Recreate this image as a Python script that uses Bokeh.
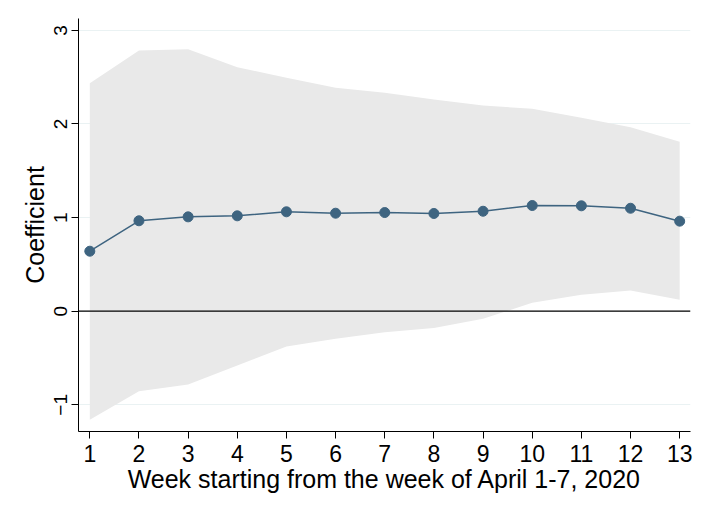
from bokeh.plotting import figure
from bokeh.models import Range1d, FixedTicker, Span, ColumnDataSource
from bokeh.embed import file_html
from bokeh.resources import INLINE

weeks = [1, 2, 3, 4, 5, 6, 7, 8, 9, 10, 11, 12, 13]
coef = [0.641, 0.966, 1.008, 1.019, 1.062, 1.047, 1.054, 1.044, 1.068, 1.129, 1.126, 1.100, 0.962]
upper = [2.436, 2.785, 2.799, 2.607, 2.494, 2.387, 2.335, 2.262, 2.198, 2.162, 2.066, 1.966, 1.810]
lower = [-1.160, -0.855, -0.783, -0.580, -0.377, -0.295, -0.225, -0.178, -0.081, 0.090, 0.175, 0.221, 0.122]
y_ticks = [-1, 0, 1, 2, 3]
x_label = "Week starting from the week of April 1-7, 2020"
y_label = "Coefficient"

FONT = "Liberation Sans"
LINE_COLOR = "#3E6480"

p = figure(width=693, height=500, output_backend="svg", toolbar_location=None,
           x_range=Range1d(0.77, 13.22), y_range=Range1d(-1.285, 3.127),
           min_border_left=78, min_border_right=3, min_border_top=18, min_border_bottom=69)
p.outline_line_color = None
p.background_fill_color = "white"
p.border_fill_color = "white"

src = ColumnDataSource(dict(x=weeks, y=coef, lo=lower, hi=upper))
p.varea(x="x", y1="lo", y2="hi", source=src, fill_color="#E9E9E9", fill_alpha=1.0)
p.add_layout(Span(location=0, dimension="width", line_color="black", line_width=1.2))
p.line(x="x", y="y", source=src, line_color=LINE_COLOR, line_width=1.5)
p.scatter(x="x", y="y", source=src, size=10, fill_color=LINE_COLOR, line_color=LINE_COLOR)

p.xgrid.visible = False
p.ygrid.ticker = FixedTicker(ticks=y_ticks)
p.ygrid.grid_line_color = "#EAF2F3"
p.ygrid.grid_line_width = 1.2

p.xaxis.ticker = FixedTicker(ticks=weeks)
p.yaxis.ticker = FixedTicker(ticks=y_ticks)
for ax in (p.xaxis, p.yaxis):
    ax.axis_line_color = "black"
    ax.major_tick_line_color = "black"
    ax.major_tick_in = 0
    ax.major_tick_out = 7
    ax.minor_tick_line_color = None
    ax.major_label_text_font = FONT
    ax.axis_label_text_font = FONT
    ax.axis_label_text_font_style = "normal"
    ax.major_label_text_color = "black"
    ax.axis_label_text_color = "black"

p.xaxis.axis_label = x_label
p.xaxis.major_label_text_font_size = "23px"
p.xaxis.axis_label_text_font_size = "25px"
p.xaxis.major_label_standoff = 6
p.xaxis.axis_label_standoff = 0

p.yaxis.axis_label = y_label
p.yaxis.major_label_orientation = "vertical"
p.yaxis.major_label_text_font_size = "19px"
p.yaxis.axis_label_text_font_size = "25px"
p.yaxis.major_label_standoff = 4
p.yaxis.axis_label_standoff = 3

open("out.html", "w").write(file_html(p, INLINE))
